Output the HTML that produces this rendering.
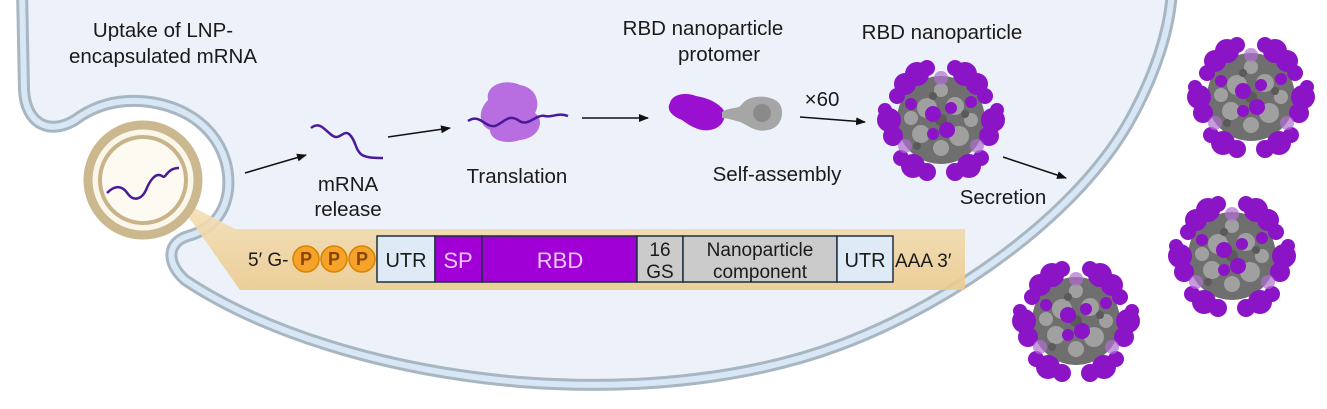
<!DOCTYPE html>
<html><head><meta charset="utf-8"><style>
html,body{margin:0;padding:0;background:#fff;}
svg{display:block;}
text{font-family:"Liberation Sans",sans-serif;fill:#1a1a1a;}
</style></head><body>
<svg width="1327" height="409" viewBox="0 0 1327 409" xmlns="http://www.w3.org/2000/svg">
<defs>
<marker id="ah" markerWidth="10" markerHeight="8" refX="9" refY="4" orient="auto" markerUnits="userSpaceOnUse">
<path d="M0,0 L10,4 L0,8 z" fill="#111"/></marker>
<linearGradient id="band" x1="0" y1="0" x2="0" y2="1">
<stop offset="0" stop-color="#f5e2bd"/><stop offset="1" stop-color="#eccb8e"/></linearGradient>
<g id="np">
<circle cx="0" cy="0" r="44" fill="#6f6f6f"/>
<g fill="#a0a0a0">
<circle cx="-14" cy="-12" r="10"/><circle cx="14" cy="-14" r="9"/><circle cx="-20" cy="14" r="9"/>
<circle cx="18" cy="16" r="10"/><circle cx="0" cy="28" r="8"/><circle cx="-30" cy="-2" r="7"/><circle cx="30" cy="0" r="7"/>
<circle cx="0" cy="-30" r="7"/>
</g>
<g fill="#5a5a5a"><circle cx="0" cy="0" r="6"/><circle cx="-8" cy="-24" r="4"/><circle cx="24" cy="-6" r="4"/><circle cx="-24" cy="26" r="4"/></g>
<g fill="#8a14c6">
<circle cx="-24" cy="-46" r="12"/><circle cx="-36" cy="-36" r="11"/><circle cx="-14" cy="-52" r="8"/><circle cx="-44" cy="-24" r="8"/>
<circle cx="24" cy="-46" r="12"/><circle cx="36" cy="-36" r="11"/><circle cx="14" cy="-52" r="8"/><circle cx="44" cy="-24" r="8"/>
<circle cx="-52" cy="0" r="12"/><circle cx="-48" cy="16" r="10"/><circle cx="-56" cy="-10" r="7"/>
<circle cx="52" cy="0" r="12"/><circle cx="48" cy="16" r="10"/><circle cx="56" cy="-10" r="7"/>
<circle cx="-28" cy="46" r="12"/><circle cx="-14" cy="52" r="9"/><circle cx="-40" cy="38" r="8"/>
<circle cx="28" cy="46" r="12"/><circle cx="14" cy="52" r="9"/><circle cx="40" cy="38" r="8"/>
<circle cx="-8" cy="-6" r="8"/><circle cx="10" cy="-12" r="6"/><circle cx="6" cy="10" r="8"/><circle cx="-8" cy="14" r="6"/>
<circle cx="-30" cy="-16" r="6"/><circle cx="30" cy="-18" r="6"/>
</g>
<g fill="#b070d0" opacity="0.7"><circle cx="0" cy="-42" r="7"/><circle cx="-36" cy="26" r="7"/><circle cx="36" cy="26" r="7"/></g>
</g>
</defs>
<rect width="1327" height="409" fill="#fff"/>
<!-- cell -->
<path d="M22,-10 L24,90 C26,125 50,135 75,120 C95,105 120,98 150,102 C205,110 232,150 228,190 C225,215 210,230 188,236 C168,242 165,262 185,280 C260,330 380,370 520,382 C650,392 760,375 840,345 C960,300 1080,210 1130,120 C1155,75 1170,30 1172,-10 Z" fill="#edf1f9" stroke="#a8b6c1" stroke-width="12" stroke-linejoin="round"/>
<path d="M22,-10 L24,90 C26,125 50,135 75,120 C95,105 120,98 150,102 C205,110 232,150 228,190 C225,215 210,230 188,236 C168,242 165,262 185,280 C260,330 380,370 520,382 C650,392 760,375 840,345 C960,300 1080,210 1130,120 C1155,75 1170,30 1172,-10" fill="none" stroke="#d8e7f6" stroke-width="6" stroke-linejoin="round"/>
<!-- band -->
<polygon points="160,190 235,229 965,229 965,290 240,290 180,205" fill="url(#band)" opacity="0.9"/>
<!-- vesicle -->
<circle cx="143" cy="180" r="55" fill="#fbf6ea" stroke="#cbb88f" stroke-width="9"/>
<circle cx="143" cy="180" r="43" fill="#fdfaf2" stroke="#c9b48a" stroke-width="4"/>
<path d="M107,193 C115,185 122,185 128,194 C134,202 142,199 146,190 C150,180 156,172 162,176 C166,180 166,168 179,168" fill="none" stroke="#4a1a99" stroke-width="2.5"/>
<!-- arrows -->
<g stroke="#111" stroke-width="1.6" marker-end="url(#ah)">
<line x1="245" y1="173" x2="306" y2="155"/>
<line x1="388" y1="137" x2="450" y2="128"/>
<line x1="582" y1="118" x2="648" y2="118"/>
<line x1="800" y1="117" x2="865" y2="122"/>
<line x1="1003" y1="157" x2="1066" y2="178"/>
</g>
<!-- released mRNA -->
<path d="M311,128 C320,120 326,132 333,136 C340,140 343,130 349,134 C356,140 355,150 362,155 C368,158 375,158 383,158" fill="none" stroke="#4a1a99" stroke-width="2.5"/>
<!-- ribosome -->
<path d="M488,100 C485,85 505,78 520,85 C538,88 540,105 535,113 C545,120 540,138 520,140 C505,145 490,140 490,130 C478,125 478,110 488,100 Z" fill="#b86ee0"/>
<path d="M468,121 C480,113 485,128 495,126 C505,122 508,114 518,120 C528,128 535,114 545,116 C552,118 558,112 568,116" fill="none" stroke="#4a1a99" stroke-width="2.5"/>
<!-- protomer -->
<path d="M670,103 C672,94 686,92 696,96 C708,98 716,102 722,108 C728,114 724,128 710,130 C700,132 690,126 682,120 C672,116 666,110 670,103 Z" fill="#9a10d0"/>
<path d="M722,112 C732,106 738,110 742,104 C750,94 770,95 778,102 C786,110 782,128 768,130 C755,133 748,125 740,122 C732,120 728,118 722,118Z" fill="#a6a6a6"/>
<circle cx="762" cy="113" r="9" fill="#8a8a8a"/>
<!-- nanoparticles -->
<use href="#np" transform="translate(941,120)"/>
<use href="#np" transform="translate(1251,97)"/>
<use href="#np" transform="translate(1232,256)"/>
<use href="#np" transform="translate(1076,321)"/>
<!-- construct -->
<text x="248" y="266" font-size="19">5′ G-</text>
<g stroke="#d88400" stroke-width="1.5" fill="#f5a32a">
<circle cx="306" cy="259" r="13"/><circle cx="334" cy="259" r="13"/><circle cx="362" cy="259" r="13"/>
</g>
<g font-size="18" font-weight="bold" text-anchor="middle">
<text x="306" y="265" style="fill:#8a4500">P</text><text x="334" y="265" style="fill:#8a4500">P</text><text x="362" y="265" style="fill:#8a4500">P</text>
</g>
<g stroke="#1d2f40" stroke-width="1.5">
<rect x="377" y="236" width="58" height="46" fill="#deeaf6"/>
<rect x="435" y="236" width="47" height="46" fill="#a000d6"/>
<rect x="482" y="236" width="155" height="46" fill="#a000d6"/>
<rect x="637" y="236" width="46" height="46" fill="#cbcbcb"/>
<rect x="683" y="236" width="154" height="46" fill="#cbcbcb"/>
<rect x="837" y="236" width="56" height="46" fill="#deeaf6"/>
</g>
<g font-size="20" text-anchor="middle">
<text x="406" y="267">UTR</text>
<text x="865" y="267">UTR</text>
</g>
<g font-size="22" text-anchor="middle">
<text x="458" y="268" style="fill:#f0c8ff">SP</text>
<text x="560" y="268" style="fill:#f0c8ff">RBD</text>
</g>
<g font-size="19" text-anchor="middle">
<text x="660" y="256">16</text><text x="660" y="278">GS</text>
<text x="760" y="256">Nanoparticle</text><text x="760" y="278">component</text>
</g>
<text x="895" y="267" font-size="19">AAA 3′</text>
<!-- labels -->
<g font-size="20.5" text-anchor="middle">
<text x="163" y="37">Uptake of LNP-</text>
<text x="163" y="63">encapsulated mRNA</text>
<text x="348" y="191">mRNA</text>
<text x="348" y="216">release</text>
<text x="517" y="183">Translation</text>
<text x="703" y="35">RBD nanoparticle</text>
<text x="719" y="61">protomer</text>
<text x="777" y="181">Self-assembly</text>
<text x="822" y="106">×60</text>
<text x="942" y="39">RBD nanoparticle</text>
<text x="1003" y="204">Secretion</text>
</g>
</svg>
</body></html>
